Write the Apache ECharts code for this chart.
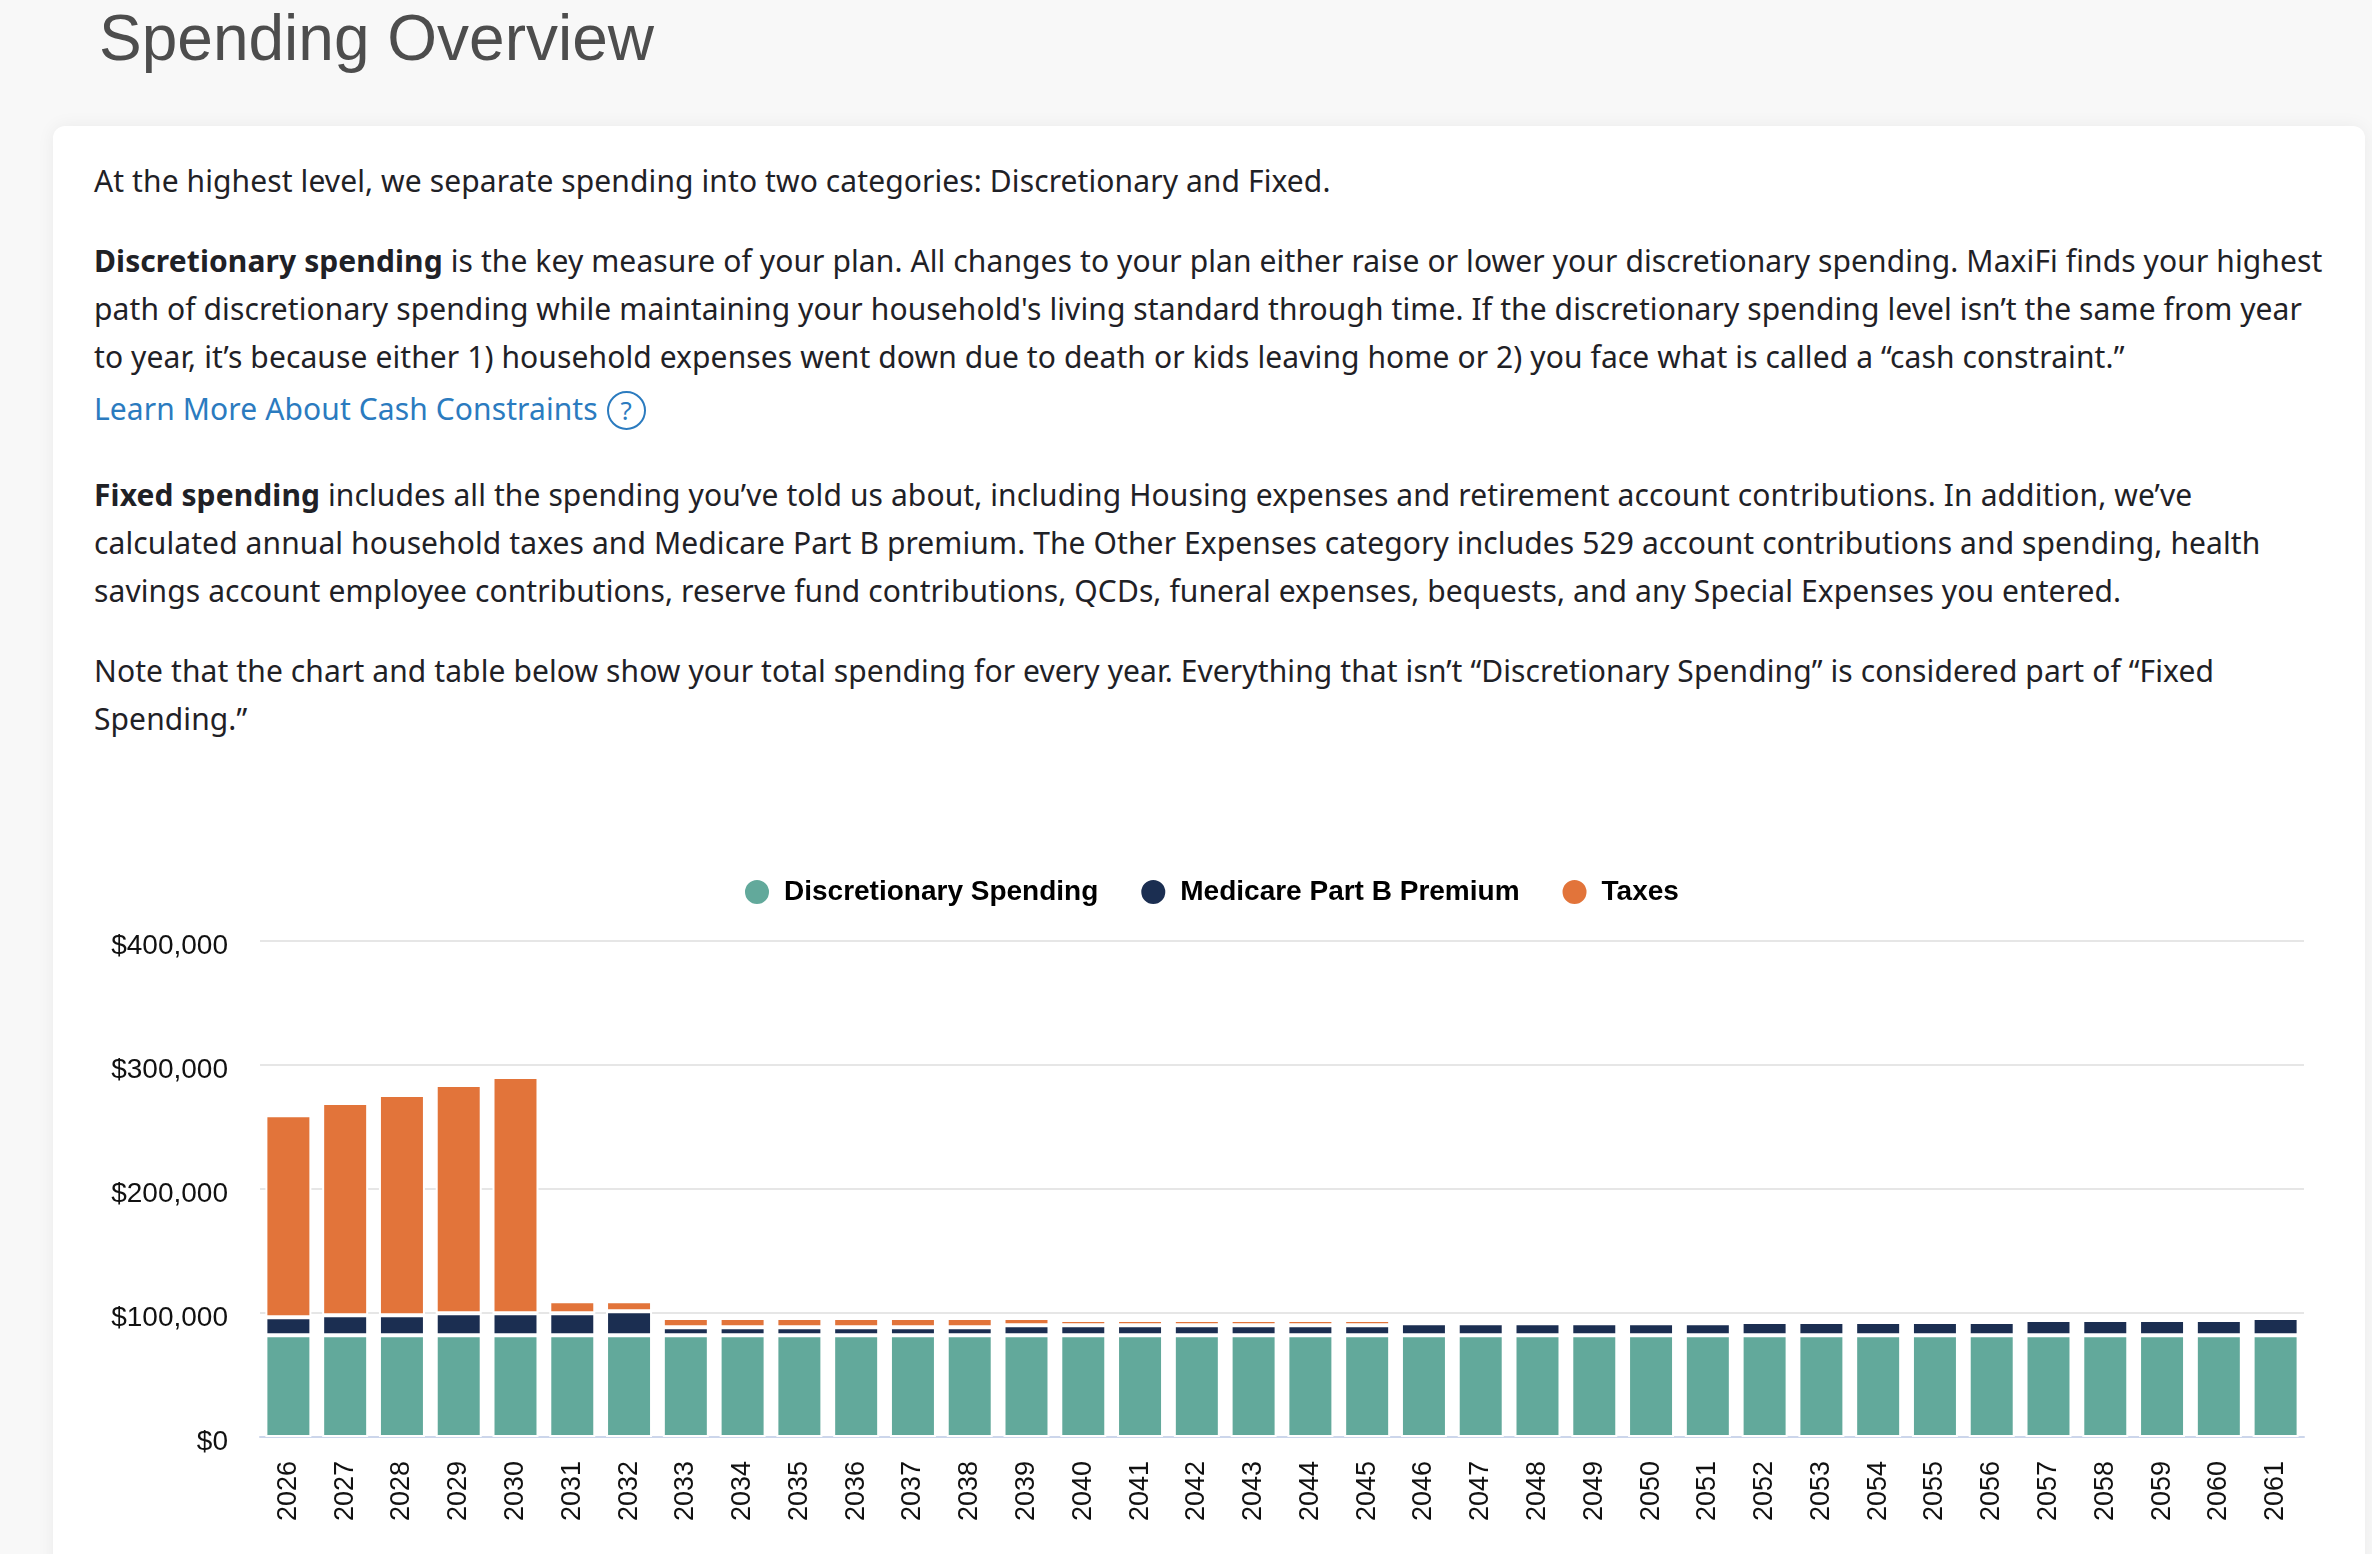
<!DOCTYPE html>
<html>
<head>
<meta charset="utf-8">
<script src="https://cdn.jsdelivr.net/npm/echarts@6.0.0/dist/echarts.min.js"></script>
<style>
  html, body { margin: 0; padding: 0; width: 2372px; height: 1554px; overflow: hidden; background: #f8f8f8; }
  .title { position: absolute; left: 99px; top: 6px; font-family: "Liberation Sans", Arial, sans-serif; font-size: 64px; line-height: 64px; color: #4d4d4d; white-space: nowrap; }
  .card { position: absolute; left: 53px; top: 126px; width: 2312px; height: 1500px; background: #fff; border-radius: 12px; box-shadow: 0 0 18px rgba(0,0,0,0.06); }
  .txt { position: absolute; left: 94px; font-family: "Noto Sans", Roboto, sans-serif; font-size: 30px; line-height: 48px; letter-spacing: 0.1px; color: #1f2126; white-space: nowrap; }
  .txt b { font-weight: 700; }
  .link { color: #2b7bbf; }
  .q { display: inline-block; width: 35px; height: 35px; border: 2px solid #2b7bbf; border-radius: 50%; text-align: center; line-height: 35px; font-size: 26px; vertical-align: 0px; margin-left: 9px; }
  #chart { position: absolute; left: 0; top: 800px; width: 2372px; height: 754px; }
</style>
</head>
<body>
<div class="title">Spending Overview</div>
<div class="card"></div>
<div class="txt" style="top:157px">At the highest level, we separate spending into two categories: Discretionary and Fixed.</div>
<div class="txt" style="top:237px"><b>Discretionary spending</b> is the key measure of your plan. All changes to your plan either raise or lower your discretionary spending. MaxiFi finds your highest<br>path of discretionary spending while maintaining your household's living standard through time. If the discretionary spending level isn’t the same from year<br>to year, it’s because either 1) household expenses went down due to death or kids leaving home or 2) you face what is called a “cash constraint.”</div>
<div class="txt link" style="top:385px">Learn More About Cash Constraints<span class="q">?</span></div>
<div class="txt" style="top:471px"><b>Fixed spending</b> includes all the spending you’ve told us about, including Housing expenses and retirement account contributions. In addition, we’ve<br>calculated annual household taxes and Medicare Part B premium. The Other Expenses category includes 529 account contributions and spending, health<br>savings account employee contributions, reserve fund contributions, QCDs, funeral expenses, bequests, and any Special Expenses you entered.</div>
<div class="txt" style="top:647px">Note that the chart and table below show your total spending for every year. Everything that isn’t “Discretionary Spending” is considered part of “Fixed<br>Spending.”</div>
<div id="chart"></div>
<script>
// years on the x axis
const years = ['2026', '2027', '2028', '2029', '2030', '2031', '2032', '2033', '2034', '2035',
  '2036', '2037', '2038', '2039', '2040', '2041', '2042', '2043', '2044', '2045',
  '2046', '2047', '2048', '2049', '2050', '2051', '2052', '2053', '2054', '2055',
  '2056', '2057', '2058', '2059', '2060', '2061']

// stacked values
const discretionary = [82000, 82000, 82000, 82000, 82000, 82000, 82000, 82000, 82000, 82000,
  82000, 82000, 82000, 82000, 82000, 82000, 82000, 82000, 82000, 82000,
  82000, 82000, 82000, 82000, 82000, 82000, 82000, 82000, 82000, 82000,
  82000, 82000, 82000, 82000, 82000, 82000]
const medicare = [14500, 16100, 16100, 17800, 17800, 17800, 19400, 6600, 6600, 6600,
  6600, 6600, 6600, 8100, 8100, 8100, 8100, 8100, 8100, 8100,
  9700, 9700, 9700, 9700, 9700, 9700, 10700, 10700, 10700, 10700,
  10700, 12400, 12400, 12400, 12400, 14000]
const taxes = [162900, 171300, 177700, 184100, 190500, 9600, 8000, 7400, 7400, 7400,
  7400, 7400, 7400, 5900, 4300, 4300, 4300, 4300, 4300, 4300,
  2700, 2700, 2700, 2700, 2700, 2700, 0, 0, 0, 0,
  0, 0, 0, 0, 0, 0]

const seriesNames = ['Discretionary Spending', 'Medicare Part B Premium', 'Taxes']
const colors = ['#62a99b', '#1b2e51', '#e2743a']

const labelFont = '"Liberation Sans", Arial, Helvetica, sans-serif'

let chart = echarts.init(document.getElementById('chart'))

function barSeries(name, data, color) {
  return {
    name: name,
    type: 'bar',
    stack: 'total',
    data: data,
    barWidth: '81%',
    itemStyle: { color: color, borderColor: '#fff', borderWidth: 2 },
    emphasis: { disabled: true }
  }
}

chart.setOption({
  animation: false,
  color: colors,
  legend: {
    left: 743,
    top: 78,
    padding: 0,
    icon: 'circle',
    itemWidth: 26,
    itemHeight: 26,
    itemGap: 41,
    selectedMode: false,
    data: seriesNames,
    textStyle: { fontFamily: labelFont, fontSize: 28, fontWeight: 'bold', color: '#000', padding: [0, 0, 0, 9] }
  },
  grid: { left: 260, right: 68, top: 141, bottom: 117 },
  xAxis: {
    type: 'category',
    data: years,
    axisLine: { lineStyle: { color: '#ccd6eb', width: 2 } },
    axisTick: { show: false },
    axisLabel: { rotate: 90, margin: 24, interval: 0, fontFamily: labelFont, fontSize: 27, color: '#111' }
  },
  yAxis: {
    type: 'value',
    min: 0,
    max: 400000,
    interval: 100000,
    axisLine: { show: false },
    axisTick: { show: false },
    splitLine: { lineStyle: { color: '#e6e6e6', width: 2 } },
    axisLabel: {
      margin: 32,
      verticalAlign: 'top',
      lineHeight: 10,
      fontFamily: labelFont,
      fontSize: 28,
      color: '#111',
      formatter: v => '$' + v.toLocaleString('en-US')
    }
  },
  series: [
    barSeries(seriesNames[0], discretionary, colors[0]),
    barSeries(seriesNames[1], medicare, colors[1]),
    barSeries(seriesNames[2], taxes, colors[2])
  ]
})

window.addEventListener('resize', () => {
  chart.resize()
})
</script>
</body>
</html>
